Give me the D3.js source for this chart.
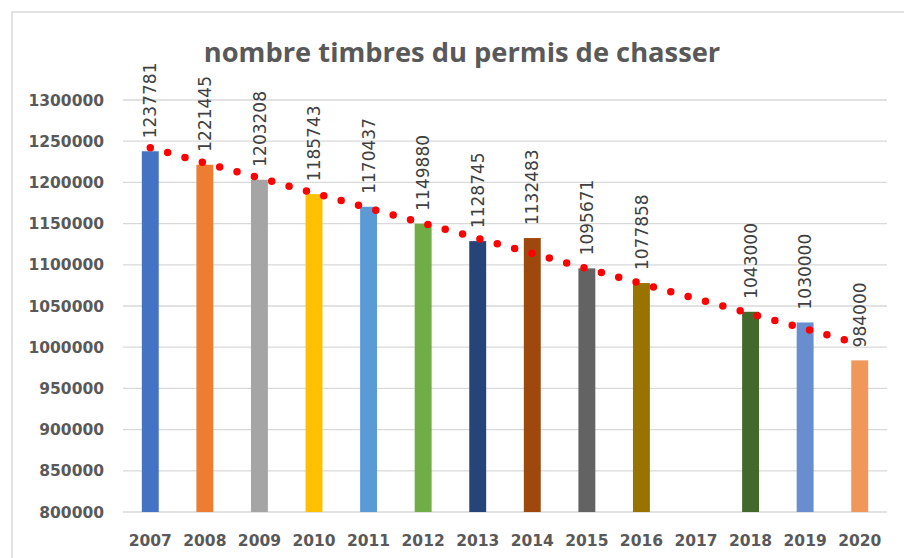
<!DOCTYPE html>
<html>
<head>
<meta charset="utf-8">
<script src="https://d3js.org/d3.v7.min.js"></script>
<style>
  body { margin: 0; background: #fff; }
  svg { display: block; }
</style>
</head>
<body>
<script>
// chart data
var years = ["2007", "2008", "2009", "2010", "2011", "2012", "2013",
             "2014", "2015", "2016", "2017", "2018", "2019", "2020"];
var timbres = [1237781, 1221445, 1203208, 1185743, 1170437, 1149880, 1128745,
               1132483, 1095671, 1077858, null, 1043000, 1030000, 984000];
var barColors = ["#4472C4", "#ED7D31", "#A5A5A5", "#FFC000", "#5B9BD5", "#70AD47", "#264478",
                 "#9E480E", "#636363", "#997300", "#255E91", "#43682B", "#698ED0", "#F1975A"];
var yTicks = [800000, 850000, 900000, 950000, 1000000, 1050000, 1100000,
              1150000, 1200000, 1250000, 1300000];
// linear trendline, read at first and last year
var trendYears = ["2007", "2020"];
var trendValues = [1242000, 1004000];

var W = 904, H = 558;
var plot = { left: 123, right: 887, top: 100, bottom: 512 };

var svg = d3.select("body").append("svg")
  .attr("width", W)
  .attr("height", H);

// chart frame
svg.append("rect")
  .attr("x", 12).attr("y", 12)
  .attr("width", 920).attr("height", 600)
  .attr("fill", "#fff")
  .attr("stroke", "#D9D9D9")
  .attr("stroke-width", 1.5);

var x = d3.scaleBand()
  .domain(years)
  .range([plot.left, plot.right])
  .paddingInner(0.69)
  .paddingOuter(0.345);

var y = d3.scaleLinear()
  .domain([800000, 1300000])
  .range([plot.bottom, plot.top]);

// gridlines
svg.append("g")
  .selectAll("line")
  .data(yTicks)
  .join("line")
  .attr("x1", plot.left).attr("x2", plot.right)
  .attr("y1", d => y(d)).attr("y2", d => y(d))
  .attr("stroke", "#D9D9D9")
  .attr("stroke-width", 1.3);

// y axis labels
svg.append("g")
  .selectAll("text")
  .data(yTicks)
  .join("text")
  .attr("x", 104)
  .attr("y", d => y(d))
  .attr("dy", "0.36em")
  .attr("text-anchor", "end")
  .style("font-family", "DejaVu Sans")
  .style("font-weight", "bold")
  .style("font-size", "15.5px")
  .style("fill", "#595959")
  .text(d => d);

// x axis labels
svg.append("g")
  .selectAll("text")
  .data(years)
  .join("text")
  .attr("x", d => x(d) + x.bandwidth() / 2)
  .attr("y", 546)
  .attr("text-anchor", "middle")
  .style("font-family", "DejaVu Sans")
  .style("font-weight", "bold")
  .style("font-size", "15.5px")
  .style("fill", "#595959")
  .text(d => d);

var rows = years.map(function(yr, i) {
  return { year: yr, value: timbres[i], color: barColors[i] };
}).filter(d => d.value !== null);

// bars
svg.append("g")
  .selectAll("rect")
  .data(rows)
  .join("rect")
  .attr("x", d => x(d.year))
  .attr("width", x.bandwidth())
  .attr("y", d => y(d.value))
  .attr("height", d => y(800000) - y(d.value))
  .attr("fill", d => d.color);

// data labels, rotated
svg.append("g")
  .selectAll("text")
  .data(rows)
  .join("text")
  .attr("transform", d => "translate(" + (x(d.year) + x.bandwidth() / 2) + "," + (y(d.value) - 13) + ") rotate(-90)")
  .attr("dy", "0.36em")
  .attr("text-anchor", "start")
  .style("font-family", "DejaVu Sans")
  .style("font-size", "17px")
  .style("fill", "#404040")
  .text(d => d.value);

// dotted trendline
var trend = trendYears.map(function(yr, i) {
  return [x(yr) + x.bandwidth() / 2, y(trendValues[i])];
});
svg.append("path")
  .attr("d", d3.line()(trend))
  .attr("fill", "none")
  .attr("stroke", "#FF0000")
  .attr("stroke-width", 7.5)
  .attr("stroke-linecap", "round")
  .attr("stroke-dasharray", "0 18");

// title
svg.append("text")
  .attr("x", 462)
  .attr("y", 62)
  .attr("text-anchor", "middle")
  .style("font-family", "Open Sans")
  .style("font-weight", "bold")
  .style("font-size", "27.3px")
  .style("fill", "#595959")
  .text("nombre timbres du permis de chasser");
</script>
</body>
</html>
